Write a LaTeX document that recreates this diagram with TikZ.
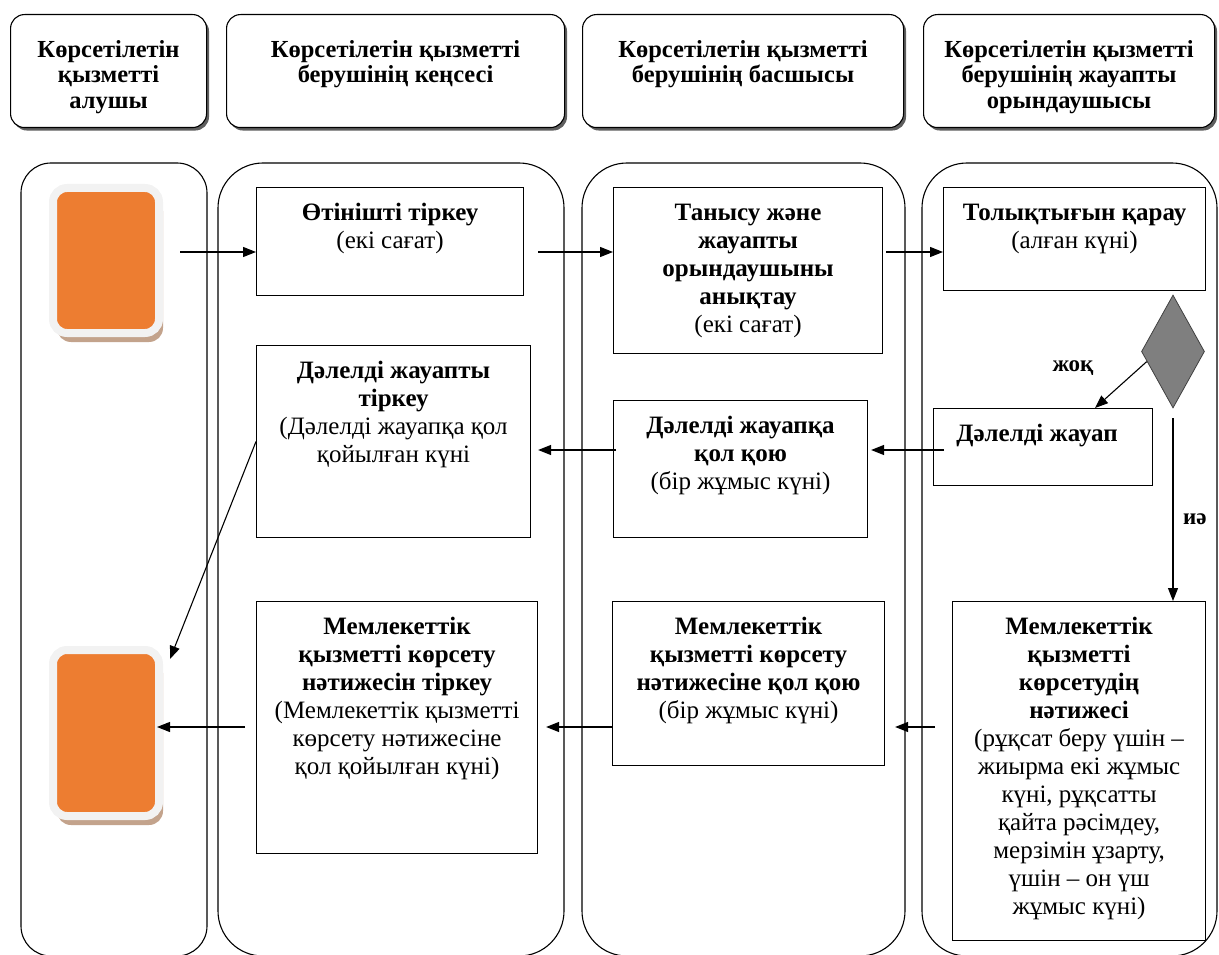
\documentclass[tikz,border=0pt]{standalone}
\usepackage{fontspec}
\setmainfont{Liberation Serif}
\usetikzlibrary{positioning,calc,arrows.meta,shapes.geometric,shadows}

\definecolor{cardorange}{HTML}{ED7D31}
\definecolor{cardrim}{HTML}{F2F2F2}
\definecolor{cardshade}{HTML}{C3A38C}
\definecolor{gategray}{HTML}{7F7F7F}

\newcommand{\inbox}[4][13pt]{\parbox[t][#3][t]{#2}{\centering\vspace*{#1}\strut #4}}

\begin{document}
\begin{tikzpicture}[x=1pt,y=1pt,yscale=-1,xscale=1,
    lane/.style={draw,line width=1.1pt,rounded corners=45pt},
    head/.style={draw,line width=1.1pt,rounded corners=14pt,fill=white,anchor=north west,inner sep=0pt,
        drop shadow={shadow xshift=2.5pt,shadow yshift=-3pt,fill=black!70,opacity=0.9},
        font=\bfseries\fontsize{24.5}{25.5}\selectfont},
    box/.style={draw,line width=1.1pt,anchor=north west,inner sep=0pt,font=\fontsize{25}{28}\selectfont},
    card/.style={draw=cardrim,line width=8pt,fill=cardorange,rounded corners=14pt,minimum width=106pt,
        drop shadow={shadow xshift=4pt,shadow yshift=-9pt,fill=cardshade,opacity=1}},
    gate/.style={diamond,draw=black!75,fill=gategray,line width=0.8pt,minimum width=63pt,minimum height=113pt,inner sep=0pt},
    tag/.style={font=\bfseries\fontsize{23}{26}\selectfont,inner sep=0pt},
    arr/.style={-{Triangle[length=13pt,width=10pt]},line width=1.1pt},
  ]
  \useasboundingbox (0,0) rectangle (1219,955);

  %Shape: Lanes
  \draw[lane,rounded corners=30pt] (21,163) rectangle (207,956);
  \draw[lane] (218,163) rectangle (564,956);
  \draw[lane] (582,163) rectangle (905,956);
  \draw[lane] (922,163) rectangle (1217,956);

  %Shape: Lane headers
  \node[head] (hrecv) at (10,14) {\inbox[25pt]{196pt}{113pt}{Көрсетілетін\\қызметті\\алушы}};
  \node[head] (hoffice) at (226,14) {\inbox[25pt]{338pt}{113pt}{Көрсетілетін қызметті\\берушінің кеңсесі}};
  \node[head] (hchief) at (582,14) {\inbox[25pt]{321pt}{113pt}{Көрсетілетін қызметті\\берушінің басшысы}};
  \node[head] (hexec) at (923,14) {\inbox[25pt]{291pt}{113pt}{Көрсетілетін қызметті\\берушінің жауапты\\орындаушысы}};

  %Shape: Start and end cards
  \node[card,minimum height=145pt] (start) at (106,260.5) {};
  \node[card,minimum height=166pt] (finish) at (106,733) {};

  %Shape: Steps
  \node[box] (reg) at (256,187) {\inbox{267pt}{108pt}{{\bfseries Өтінішті тіркеу}\\(екі сағат)}};
  \node[box] (intro) at (613,187) {\inbox{269pt}{166pt}{{\bfseries Танысу және\\жауапты\\орындаушыны\\анықтау}\\(екі сағат)}};
  \node[box] (check) at (943,187) {\inbox{262pt}{103pt}{{\bfseries Толықтығын қарау}\\(алған күні)}};
  \node[gate] (gate) at (1173,351.5) {};
  \node[box] (deny) at (933,408) {\inbox{219pt}{77pt}{\bfseries Дәлелді жауап\hspace*{12pt}}};
  \node[box] (sign) at (613,400) {\inbox{254pt}{137pt}{{\bfseries Дәлелді жауапқа\\қол қою}\\(бір жұмыс күні)}};
  \node[box] (denyreg) at (256,345) {\inbox{274pt}{192pt}{{\bfseries Дәлелді жауапты\\тіркеу}\\(Дәлелді жауапқа қол\\қойылған күні}};
  \node[box] (result) at (952,601) {\inbox{253pt}{339pt}{{\bfseries Мемлекеттік\\қызметті\\көрсетудің\\нәтижесі}\\(рұқсат беру үшін –\\жиырма екі жұмыс\\күні, рұқсатты\\қайта рәсімдеу,\\мерзімін ұзарту,\\үшін – он үш\\жұмыс күні)}};
  \node[box] (ressign) at (612,601) {\inbox{272pt}{164pt}{{\bfseries Мемлекеттік\\қызметті көрсету\\нәтижесіне қол қою}\\(бір жұмыс күні)}};
  \node[box] (resreg) at (256,601) {\inbox{281pt}{252pt}{{\bfseries Мемлекеттік\\қызметті көрсету\\нәтижесін тіркеу}\\(Мемлекеттік қызметті\\көрсету нәтижесіне\\қол қойылған күні)}};

  % Text Node
  \node[tag] (no) at (1073,368) {жоқ};
  % Text Node
  \node[tag,anchor=west] (yes) at (1183,519) {иә};

  %Straight Lines
  \coordinate (row1) at (0,252);
  \coordinate (row2) at (0,450);
  \coordinate (row3) at (0,727);
  \draw[arr,shorten <=17pt] (start.east |- row1) -- (reg.west |- row1);
  \draw[arr,shorten <=14pt] (reg.east |- row1) -- (intro.west |- row1);
  \draw[arr,shorten <=3pt] (intro.east |- row1) -- (check.west |- row1);
  \draw[arr] (gate.201) -- ([xshift=52pt]deny.north);
  \draw[arr,shorten <=10pt] (gate.south) -- (gate.south |- result.north);
  \draw[arr,shorten <=-11pt,shorten >=3pt] (deny.west |- row2) -- (sign.east |- row2);
  \draw[arr,shorten <=-3pt,shorten >=7pt] (sign.west |- row2) -- (denyreg.east |- row2);
  \draw[arr] (denyreg.west) -- ($(finish.north east)+(7,13)$);
  \draw[arr,shorten <=17pt,shorten >=10pt] (result.west |- row3) -- (ressign.east |- row3);
  \draw[arr,shorten >=8pt] (ressign.west |- row3) -- (resreg.east |- row3);
  \draw[arr,shorten <=11pt,shorten >=-6pt] (resreg.west |- row3) -- (finish.east |- row3);

\end{tikzpicture}
\end{document}
